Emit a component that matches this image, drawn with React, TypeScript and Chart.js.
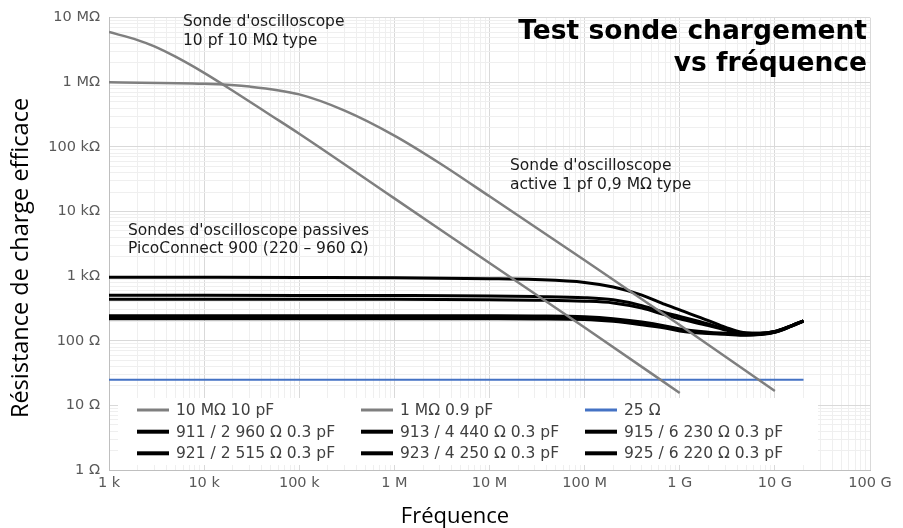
import { useEffect, useRef } from 'react';
import { Chart, registerables } from 'chart.js';

Chart.register(...registerables);

// ---- Axis ticks ----
const xTickValues = [1e3, 1e4, 1e5, 1e6, 1e7, 1e8, 1e9, 1e10, 1e11];
const xTickLabels = ['1 k', '10 k', '100 k', '1 M', '10 M', '100 M', '1 G', '10 G', '100 G'];
const yTickValues = [1, 10, 100, 1e3, 1e4, 1e5, 1e6, 1e7];
const yTickLabels = ['1 Ω', '10 Ω', '100 Ω', '1 kΩ', '10 kΩ', '100 kΩ', '1 MΩ', '10 MΩ'];
const minorMultipliers = [2, 3, 4, 5, 6, 7, 8, 9];

// ---- Series: 10 MΩ 10 pF passive probe ----
const passiveFreq = [1e3, 2e3, 3e3, 5e3, 1e4, 2e4, 5e4, 1e5, 1e6, 1e7, 1e8, 1e9];
const passiveR = [6.0e6, 4.5e6, 3.6e6, 2.49e6, 1.4e6, 7.4e5, 3.1e5, 1.6e5, 1.6e4, 1.6e3, 160, 15.6];

// ---- Series: 1 MΩ 0.9 pF active probe ----
const activeFreq = [1e3, 1e4, 3e4, 1e5, 3e5, 1e6, 3e6, 1e7, 1e8, 1e9, 1e10];
const activeR = [1.0e6, 0.95e6, 0.86e6, 0.65e6, 0.365e6, 1.5e5, 5.6e4, 1.72e4, 1.76e3, 175, 16.7];

// ---- Series: 25 Ω reference ----
const refFreq = [1e3, 2e10];
const refR = [25, 25];

// ---- Series: PicoConnect 900 probes ----
const probeFreq = [1e3, 1e4, 1e5, 1e6, 1e7, 3e7, 1e8, 2e8, 4e8, 7e8, 1e9, 2e9, 3e9, 5e9, 7e9, 1e10, 1.5e10, 2e10];
const r911 = [960, 958, 955, 948, 915, 885, 800, 680, 510, 365, 300, 205, 162, 132, 131, 139, 172, 203];
const r913 = [505, 505, 504, 502, 495, 485, 465, 430, 350, 272, 238, 182, 152, 132, 131, 139, 172, 203];
const r915 = [245, 245, 245, 245, 244, 242, 235, 220, 195, 170, 152, 136, 131, 126, 128, 137, 170, 203];
const r921 = [440, 440, 439, 438, 432, 425, 410, 385, 320, 252, 218, 172, 147, 130, 130, 139, 172, 203];
const r923 = [232, 232, 232, 232, 231, 229, 225, 210, 185, 163, 147, 132, 128, 124, 126, 136, 169, 202];
const r925 = [220, 220, 220, 220, 219, 218, 214, 200, 177, 157, 142, 129, 126, 122, 125, 135, 168, 201];

const labels = [
  '10 MΩ 10 pF',
  '1 MΩ 0.9 pF',
  '25 Ω',
  '911 / 2 960 Ω 0.3 pF',
  '913 / 4 440 Ω 0.3 pF',
  '915 / 6 230 Ω 0.3 pF',
  '921 / 2 515 Ω 0.3 pF',
  '923 / 4 250 Ω 0.3 pF',
  '925 / 6 220 Ω 0.3 pF',
];

const GRAY = '#7f7f7f';
const BLUE = '#4472c4';
const BLACK = '#000000';

const zip = (xs: number[], ys: number[]) => xs.map((x, i) => ({ x, y: ys[i] }));

const isDecade = (v: number) => {
  const l = Math.log10(v);
  return Math.abs(l - Math.round(l)) < 1e-6;
};

const buildTicks = (decades: number[]) => {
  const out: { value: number }[] = [];
  decades.forEach((d, i) => {
    out.push({ value: d });
    if (i < decades.length - 1) minorMultipliers.forEach((m) => out.push({ value: d * m }));
  });
  return out;
};

const labelFor = (values: number[], names: string[], v: number) => {
  const i = values.findIndex((t) => Math.abs(t - v) / t < 1e-6);
  return i >= 0 ? names[i] : '';
};

const textPlugin = {
  id: 'textPlugin',
  afterDraw(chart: any) {
    const ctx = chart.ctx as CanvasRenderingContext2D;
    ctx.save();

    // Title
    ctx.fillStyle = '#000000';
    ctx.font = 'bold 26.5px "DejaVu Sans"';
    ctx.textAlign = 'right';
    ctx.textBaseline = 'alphabetic';
    ctx.fillText('Test sonde chargement', 867, 39);
    ctx.fillText('vs fréquence', 867, 71);

    // Annotations
    ctx.fillStyle = '#1a1a1a';
    ctx.font = '15.5px "DejaVu Sans"';
    ctx.textAlign = 'left';
    ctx.fillText("Sonde d'oscilloscope", 183, 26);
    ctx.fillText('10 pf 10 MΩ type', 183, 44.5);
    ctx.fillText("Sonde d'oscilloscope", 510, 170);
    ctx.fillText('active 1 pf 0,9 MΩ type', 510, 188.5);
    ctx.fillText("Sondes d'oscilloscope passives", 128, 235);
    ctx.fillText('PicoConnect 900 (220 – 960 Ω)', 128, 253);

    // Axis titles
    ctx.fillStyle = '#000000';
    ctx.font = '22px "Open Sans"';
    ctx.textAlign = 'center';
    ctx.fillText('Fréquence', 455, 523);
    ctx.save();
    ctx.font = '23.5px "Open Sans"';
    ctx.translate(28, 258);
    ctx.rotate(-Math.PI / 2);
    ctx.textBaseline = 'alphabetic';
    ctx.fillText('Résistance de charge efficace', 0, 0);
    ctx.restore();

    // Legend inside the plot
    ctx.fillStyle = '#ffffff';
    ctx.fillRect(118, 398, 700, 67);
    const colX = [137, 361, 585];
    const rowY = [410, 431.7, 453.3];
    ctx.font = '15.5px "DejaVu Sans"';
    ctx.textBaseline = 'middle';
    ctx.textAlign = 'left';
    chart.data.datasets.forEach((ds: any, i: number) => {
      const c = i % 3;
      const r = Math.floor(i / 3);
      const x = colX[c];
      const y = rowY[r];
      ctx.strokeStyle = ds.borderColor;
      ctx.lineWidth = ds.borderColor === BLACK ? 4 : 3;
      ctx.beginPath();
      ctx.moveTo(x, y);
      ctx.lineTo(x + 32, y);
      ctx.stroke();
      ctx.fillStyle = '#404040';
      ctx.fillText(ds.label, x + 39, y + 1);
    });

    ctx.restore();
  },
};

export default function App() {
  const canvasRef = useRef<HTMLCanvasElement | null>(null);

  useEffect(() => {
    document.body.style.margin = '0';
    const canvas = canvasRef.current;
    if (!canvas) return;

    const mk = (label: string, data: { x: number; y: number }[], color: string, width: number) => ({
      label,
      data,
      borderColor: color,
      backgroundColor: color,
      borderWidth: width,
      pointRadius: 0,
      fill: false,
      cubicInterpolationMode: 'monotone' as const,
    });

    const chart = new Chart(canvas, {
      type: 'line',
      data: {
        datasets: [
          mk(labels[0], zip(passiveFreq, passiveR), GRAY, 2.5),
          mk(labels[1], zip(activeFreq, activeR), GRAY, 2.5),
          mk(labels[2], zip(refFreq, refR), BLUE, 2),
          mk(labels[3], zip(probeFreq, r911), BLACK, 3),
          mk(labels[4], zip(probeFreq, r913), BLACK, 3),
          mk(labels[5], zip(probeFreq, r915), BLACK, 3),
          mk(labels[6], zip(probeFreq, r921), BLACK, 3),
          mk(labels[7], zip(probeFreq, r923), BLACK, 3),
          mk(labels[8], zip(probeFreq, r925), BLACK, 3),
        ],
      },
      options: {
        animation: false,
        responsive: false,
        devicePixelRatio: 1,
        layout: { padding: { left: 0, right: 33, top: 13, bottom: 0 } },
        plugins: {
          legend: { display: false },
          title: { display: false },
          tooltip: { enabled: false },
        },
        scales: {
          x: {
            type: 'logarithmic',
            min: xTickValues[0],
            max: xTickValues[xTickValues.length - 1],
            afterBuildTicks: (scale: any) => {
              scale.ticks = buildTicks(xTickValues);
            },
            afterFit: (scale: any) => {
              scale.height = 58;
            },
            ticks: {
              autoSkip: false,
              maxRotation: 0,
              minRotation: 0,
              padding: 5,
              color: '#595959',
              font: { family: '"DejaVu Sans"', size: 14.5 },
              callback: (v: any) => labelFor(xTickValues, xTickLabels, Number(v)),
            },
            grid: {
              drawTicks: false,
              color: (c: any) => (c.tick && isDecade(c.tick.value) ? '#d9d9d9' : '#efefef'),
            },
            border: { display: true, color: '#bfbfbf', width: 1 },
          },
          y: {
            type: 'logarithmic',
            min: yTickValues[0],
            max: yTickValues[yTickValues.length - 1],
            afterBuildTicks: (scale: any) => {
              scale.ticks = buildTicks(yTickValues);
            },
            afterFit: (scale: any) => {
              scale.width = 109;
            },
            ticks: {
              autoSkip: false,
              padding: 9,
              color: '#595959',
              font: { family: '"DejaVu Sans"', size: 14.5 },
              callback: (v: any) => labelFor(yTickValues, yTickLabels, Number(v)),
            },
            grid: {
              drawTicks: false,
              color: (c: any) => (c.tick && isDecade(c.tick.value) ? '#d9d9d9' : '#efefef'),
            },
            border: { display: true, color: '#bfbfbf', width: 1 },
          },
        },
      },
      plugins: [textPlugin],
    });

    return () => {
      chart.destroy();
    };
  }, []);

  return (
    <div style={{ width: 903, height: 528, position: 'relative', background: '#ffffff' }}>
      <canvas ref={canvasRef} width={903} height={528} />
    </div>
  );
}
